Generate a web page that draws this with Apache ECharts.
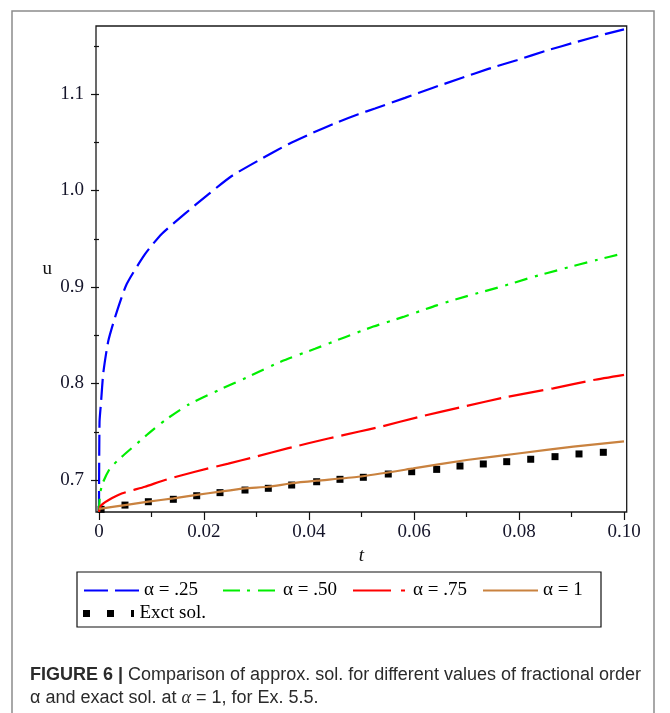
<!DOCTYPE html>
<html>
<head>
<meta charset="utf-8">
<script src="https://cdn.jsdelivr.net/npm/echarts/dist/echarts.min.js"></script>
<style>
  html, body { margin: 0; padding: 0; background: #fff; }
  #chart { width: 670px; height: 713px; }
</style>
</head>
<body>
<div id="chart"></div>
<script>
// values (t, u)
const tBlue = [0, 0.0001, 0.00038, 0.00082, 0.00177, 0.00337, 0.00528, 0.00876, 0.01194, 0.01638, 0.02082, 0.02528, 0.03034, 0.03606, 0.04082, 0.04558, 0.04939, 0.05257, 0.05829, 0.06337, 0.06876, 0.07415, 0.07956, 0.08528, 0.09099, 0.09638, 0.1];
const uBlue = [0.667, 0.760, 0.780, 0.811, 0.844, 0.874, 0.903, 0.934, 0.955, 0.976, 0.996, 1.015, 1.031, 1.048, 1.060, 1.071, 1.079, 1.085, 1.096, 1.106, 1.116, 1.126, 1.135, 1.145, 1.154, 1.162, 1.167];

const tGreen = [0, 0.0002, 0.0008, 0.0021, 0.00432, 0.00686, 0.0094, 0.01257, 0.01701, 0.02273, 0.02844, 0.0348, 0.04114, 0.04686, 0.05225, 0.05797, 0.06432, 0.07035, 0.07638, 0.08242, 0.08844, 0.0948, 0.1];
const uGreen = [0.667, 0.686, 0.698, 0.712, 0.724, 0.736, 0.748, 0.762, 0.778, 0.793, 0.807, 0.823, 0.836, 0.848, 0.859, 0.869, 0.881, 0.891, 0.900, 0.910, 0.919, 0.928, 0.935];

const tRed = [0, 0.0003, 0.00177, 0.00432, 0.00876, 0.01257, 0.01829, 0.02463, 0.02971, 0.03606, 0.04368, 0.04939, 0.05352, 0.06114, 0.06939, 0.07766, 0.08653, 0.09415, 0.1];
const uRed = [0.667, 0.673, 0.679, 0.686, 0.693, 0.700, 0.7086, 0.717, 0.724, 0.733, 0.743, 0.750, 0.755, 0.7656, 0.776, 0.786, 0.795, 0.8036, 0.809];

const tBrown = [0, 0.00495, 0.0094, 0.01416, 0.01861, 0.02305, 0.02781, 0.03225, 0.0367, 0.04146, 0.04939, 0.05987, 0.07004, 0.08019, 0.09034, 0.1];
const uBrown = [0.670, 0.674, 0.6775, 0.681, 0.6845, 0.688, 0.6914, 0.693, 0.6966, 0.6993, 0.7034, 0.712, 0.7207, 0.7277, 0.7345, 0.740];

const tExact = [0.0004, 0.00495, 0.0094, 0.01416, 0.01861, 0.02305, 0.02781, 0.03225, 0.0367, 0.04146, 0.0459, 0.05035, 0.0551, 0.05956, 0.06432, 0.06876, 0.0732, 0.07766, 0.08223, 0.08686, 0.09143, 0.09606];
const uExact = [0.6696, 0.674, 0.6775, 0.680, 0.6837, 0.6869, 0.6896, 0.6914, 0.6948, 0.6982, 0.7007, 0.7028, 0.7062, 0.7086, 0.711, 0.7145, 0.7166, 0.719, 0.7215, 0.7242, 0.727, 0.7287];

const seriesNames = ['α = .25', 'α = .50', 'α = .75', 'α = 1', 'Exct sol.'];

const xTicks = [0, 0.02, 0.04, 0.06, 0.08, 0.1];
const xTickLabels = ['0', '0.02', '0.04', '0.06', '0.08', '0.10'];
const xMinorTicks = [0.01, 0.03, 0.05, 0.07, 0.09];
const yTicks = [0.7, 0.8, 0.9, 1.0, 1.1];
const yTickLabels = ['0.7', '0.8', '0.9', '1.0', '1.1'];
const yMinorTicks = [0.75, 0.85, 0.95, 1.05, 1.15];

const zip = (ts, us) => ts.map((t, i) => [t, us[i]]);

const serif = 'Liberation Serif, Times New Roman, serif';
const sans = 'Liberation Sans, Arial, sans-serif';

const xMin = -0.000571, xMax = 0.100514;
const yMin = 0.66684, yMax = 1.17047;

function labelFor(ticks, labels) {
  return (v) => {
    const i = ticks.findIndex((t) => Math.abs(t - v) < 1e-9);
    return i >= 0 ? labels[i] : '';
  };
}

function legendItem(name, left, top, extra) {
  return Object.assign({
    data: [name],
    left,
    top,
    padding: 0,
    itemWidth: 55,
    itemHeight: 14,
    selectedMode: false,
    // hide the marker ECharts puts in the middle of a line icon
    itemStyle: { opacity: 0 },
    textStyle: { fontFamily: serif, fontSize: 19, color: '#000' },
  }, extra || {});
}

function curve(name, ts, us, color, dash) {
  return {
    name,
    type: 'line',
    data: zip(ts, us),
    showSymbol: false,
    symbol: 'none',
    smooth: 0.2,
    lineStyle: { color, width: 2.2, type: dash, cap: 'butt' },
    itemStyle: { color },
  };
}

const row1 = 581;
const row2 = 604;

const chart = echarts.init(document.getElementById('chart'));

const option = {
  animation: false,
  backgroundColor: '#fff',
  title: {
    left: 25,
    top: 659,
    text: '{b|FIGURE 6 |} Comparison of approx. sol. for different values of fractional order\nα and exact sol. at {i|α} = 1, for Ex. 5.5.',
    textStyle: {
      fontFamily: sans,
      fontSize: 18,
      fontWeight: 'normal',
      color: '#2b2b2b',
      lineHeight: 23,
      rich: {
        b: { fontFamily: sans, fontSize: 18, fontWeight: 'bold', color: '#2b2b2b', lineHeight: 23 },
        i: { fontFamily: serif, fontSize: 18, fontStyle: 'italic', color: '#2b2b2b', lineHeight: 23 },
      },
    },
  },
  graphic: [
    {
      type: 'rect',
      shape: { x: 12, y: 11, width: 642, height: 730 },
      style: { fill: 'none', stroke: '#8c8c8c', lineWidth: 1.5 },
      silent: true,
    },
    {
      type: 'rect',
      shape: { x: 77, y: 572, width: 524, height: 55 },
      style: { fill: 'none', stroke: '#111', lineWidth: 1.2 },
      silent: true,
    },
  ],
  legend: [
    legendItem(seriesNames[0], 83, row1, { lineStyle: { type: [24, 7] } }),
    legendItem(seriesNames[1], 222, row1, { lineStyle: { type: [17, 7, 3, 8] } }),
    legendItem(seriesNames[2], 352, row1, { lineStyle: { type: [38, 10, 4, 30] } }),
    legendItem(seriesNames[3], 482, row1),
    legendItem(seriesNames[4], 83, row2, {
      itemWidth: 52,
      itemHeight: 7,
      itemStyle: { opacity: 1 },
      data: [{ name: seriesNames[4], icon: 'path://M0,0h7v7h-7z M24,0h7v7h-7z M48,0h3v7h-3z' }],
    }),
  ],
  grid: {
    show: true,
    left: 96,
    right: 43.3,
    top: 26,
    bottom: 201,
    borderColor: '#1a1a1a',
    borderWidth: 1.3,
  },
  xAxis: [
    {
      type: 'value',
      min: xMin,
      max: xMax,
      name: 't',
      nameLocation: 'middle',
      nameGap: 32,
      nameTextStyle: { fontFamily: serif, fontSize: 19, fontStyle: 'italic', color: '#111' },
      axisLine: { show: false },
      splitLine: { show: false },
      axisTick: { show: true, length: 8, customValues: xTicks, lineStyle: { color: '#111', width: 1.2 } },
      axisLabel: {
        customValues: xTicks,
        formatter: labelFor(xTicks, xTickLabels),
        margin: 11,
        fontFamily: serif,
        fontSize: 19,
        color: '#15152a',
      },
    },
    {
      type: 'value',
      min: xMin,
      max: xMax,
      position: 'bottom',
      axisLine: { show: false },
      splitLine: { show: false },
      axisLabel: { show: false },
      axisTick: { show: true, length: 5, customValues: xMinorTicks, lineStyle: { color: '#111', width: 1.2 } },
    },
  ],
  yAxis: [
    {
      type: 'value',
      min: yMin,
      max: yMax,
      name: 'u',
      nameLocation: 'middle',
      nameRotate: 0,
      nameGap: 44,
      nameTextStyle: { fontFamily: serif, fontSize: 19, color: '#111' },
      axisLine: { show: false },
      splitLine: { show: false },
      axisTick: { show: true, length: 8, customValues: yTicks, lineStyle: { color: '#111', width: 1.2 } },
      axisLabel: {
        customValues: yTicks,
        formatter: labelFor(yTicks, yTickLabels),
        margin: 12,
        fontFamily: serif,
        fontSize: 19,
        color: '#15152a',
      },
    },
    {
      type: 'value',
      min: yMin,
      max: yMax,
      position: 'left',
      axisLine: { show: false },
      splitLine: { show: false },
      axisLabel: { show: false },
      axisTick: { show: true, length: 5, customValues: yMinorTicks, lineStyle: { color: '#111', width: 1.2 } },
    },
  ],
  series: [
    curve(seriesNames[0], tBlue, uBlue, '#0000ff', [21, 7]),
    curve(seriesNames[1], tGreen, uGreen, '#00ee00', [13, 8, 3, 7]),
    curve(seriesNames[2], tRed, uRed, '#ff0000', [35, 8]),
    curve(seriesNames[3], tBrown, uBrown, '#c9823f', 'solid'),
    {
      name: seriesNames[4],
      type: 'scatter',
      data: zip(tExact, uExact),
      symbol: 'rect',
      symbolSize: 7,
      itemStyle: { color: '#000', opacity: 1 },
    },
  ],
};

chart.setOption(option);
</script>
</body>
</html>
